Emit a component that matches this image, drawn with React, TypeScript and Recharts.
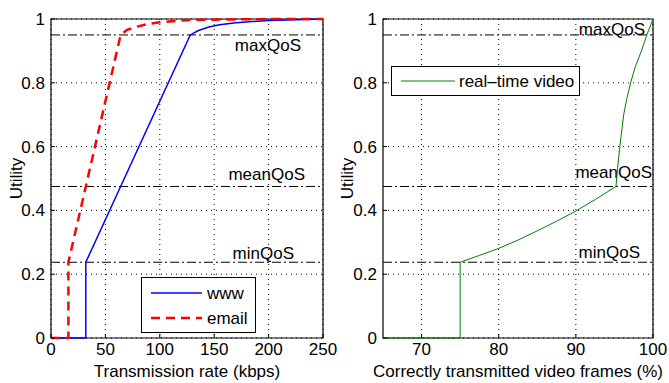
import React from 'react';
import {
  LineChart,
  Line,
  XAxis,
  YAxis,
  CartesianGrid,
  ReferenceLine,
  ReferenceArea,
  Legend,
} from 'recharts';

// www (left panel)
const wwwRate = [0, 32, 32, 128, 135, 145, 155, 170, 185, 200, 225, 250];
const wwwUtility = [0, 0, 0.2375, 0.95, 0.963, 0.975, 0.982, 0.988, 0.992, 0.995, 0.998, 1];

// email (left panel)
const emailRate = [0, 16, 16, 64, 70, 80, 90, 100, 115, 130, 150, 175, 200, 250];
const emailUtility = [0, 0, 0.2375, 0.95, 0.966, 0.977, 0.985, 0.99, 0.994, 0.997, 0.998, 0.999, 1, 1];

// real-time video (right panel)
const videoFrames = [65, 75, 75, 77.5, 80, 82.5, 85, 87.5, 90, 92.5, 95.2, 95.4, 95.7, 96.2, 96.6, 97.1, 97.7, 98.5, 99.2, 100];
const videoUtility = [0, 0, 0.2375, 0.259, 0.281, 0.307, 0.336, 0.366, 0.398, 0.434, 0.475, 0.53, 0.6, 0.7, 0.75, 0.8, 0.85, 0.9, 0.95, 1];

const rateTicks = [0, 50, 100, 150, 200, 250];
const frameTicks = [70, 80, 90, 100];
const utilityTicks = [0, 0.2, 0.4, 0.6, 0.8, 1];

const qosNames = ['maxQoS', 'meanQoS', 'minQoS'];
const qosValues = [0.95, 0.475, 0.2375];

const FONT = 17;
const DASHDOT = '9 3 2 3';

const toPoints = (xs: number[], ys: number[]) => xs.map((x, i) => ({ x, y: ys[i] }));

const wwwData = toPoints(wwwRate, wwwUtility);
const emailData = toPoints(emailRate, emailUtility);
const videoData = toPoints(videoFrames, videoUtility);

function QosLabel(props: any) {
  const { viewBox, text, dx, dy } = props;
  if (!viewBox) return null;
  return (
    <text x={viewBox.x + viewBox.width - dx} y={viewBox.y + dy} textAnchor="end" fontSize={FONT} fill="#000">
      {text}
    </text>
  );
}

function YTick(props: any) {
  const { x, y, payload } = props;
  return (
    <g>
      <line x1={x + 6} x2={x + 10} y1={y} y2={y} stroke="#000" />
      <text x={x} y={y} dy="0.35em" textAnchor="end" fontSize={FONT} fill="#000">
        {payload.value}
      </text>
    </g>
  );
}

function XTick(props: any) {
  const { x, y, payload } = props;
  return (
    <g>
      <line x1={x} x2={x} y1={y - 4} y2={y - 8} stroke="#000" />
      <text x={x} y={y} dy="0.75em" textAnchor="middle" fontSize={FONT} fill="#000">
        {payload.value}
      </text>
    </g>
  );
}

function YTitle(props: any) {
  const { viewBox, bx } = props;
  const cy = viewBox.y + viewBox.height / 2;
  return (
    <text x={bx} y={cy} transform={`rotate(-90 ${bx} ${cy})`} textAnchor="middle" fontSize={FONT} fill="#000">
      Utility
    </text>
  );
}

function XTitle(props: any) {
  const { viewBox, text } = props;
  return (
    <text x={viewBox.x + viewBox.width / 2} y={viewBox.y + 39} textAnchor="middle" fontSize={FONT} fill="#000">
      {text}
    </text>
  );
}

function LeftLegend() {
  return (
    <svg width={115} height={56} style={{ display: 'block' }}>
      <rect x={0.5} y={0.5} width={114} height={55} fill="#fff" stroke="#000" />
      <line x1={10} x2={61} y1={16} y2={16} stroke="#0000ff" strokeWidth={1.5} />
      <text x={66} y={22} fontSize={FONT} fill="#000">www</text>
      <line x1={10} x2={61} y1={41} y2={41} stroke="#ff0000" strokeWidth={2.5} strokeDasharray="9 6" />
      <text x={66} y={47} fontSize={FONT} fill="#000">email</text>
    </svg>
  );
}

function RightLegend() {
  return (
    <svg width={189} height={30} style={{ display: 'block' }}>
      <rect x={0.5} y={0.5} width={188} height={29} fill="#fff" stroke="#000" />
      <line x1={10} x2={64} y1={15} y2={15} stroke="#008000" strokeWidth={1} />
      <text x={68} y={21} fontSize={FONT} fill="#000">real–time video</text>
    </svg>
  );
}

export default function App() {
  return (
    <div
      style={{
        position: 'absolute',
        left: 0,
        top: 0,
        width: 669,
        height: 383,
        background: '#fff',
        fontFamily: '"Liberation Sans", Arial, Helvetica, sans-serif',
      }}
    >
      <div style={{ position: 'absolute', left: 0, top: 0 }}>
        <LineChart width={345} height={383} margin={{ top: 19, right: 22, bottom: 0, left: 0 }}>
          <CartesianGrid stroke="#000" strokeDasharray="1 4" horizontalValues={utilityTicks} verticalValues={rateTicks} />
          <XAxis
            type="number"
            dataKey="x"
            domain={[0, 250]}
            ticks={rateTicks}
            height={45}
            tickSize={0}
            tickMargin={4}
            axisLine={false}
            tick={<XTick />}
            label={<XTitle text="Transmission rate (kbps)" />}
          />
          <YAxis
            type="number"
            dataKey="y"
            domain={[0, 1]}
            ticks={utilityTicks}
            width={51}
            tickSize={0}
            tickMargin={6}
            axisLine={false}
            tick={<YTick />}
            label={<YTitle bx={22} />}
          />
          {qosValues.map((v, i) => (
            <ReferenceLine
              key={qosNames[i]}
              y={v}
              stroke="#000"
              strokeDasharray={DASHDOT}
              label={<QosLabel text={qosNames[i]} dx={[22, 18, 29][i]} dy={[16, -6, -3][i]} />}
            />
          ))}
          <Line data={wwwData} dataKey="y" type="linear" stroke="#0000ff" strokeWidth={1.5} dot={false} isAnimationActive={false} />
          <Line
            data={emailData}
            dataKey="y"
            type="linear"
            stroke="#ff0000"
            strokeWidth={2.5}
            strokeDasharray="9 6"
            dot={false}
            isAnimationActive={false}
          />
          <ReferenceArea x1={0} x2={250} y1={0} y2={1} fill="none" stroke="#000" strokeWidth={1.2} />
          <Legend
            layout="vertical"
            align="center"
            verticalAlign="middle"
            content={<LeftLegend />}
            wrapperStyle={{ left: 141, top: 277, width: 115, height: 56 }}
          />
        </LineChart>
      </div>
      <div style={{ position: 'absolute', left: 335, top: 0 }}>
        <LineChart width={334} height={383} margin={{ top: 19, right: 16, bottom: 0, left: 0 }}>
          <CartesianGrid stroke="#000" strokeDasharray="1 4" horizontalValues={utilityTicks} verticalValues={frameTicks} />
          <XAxis
            type="number"
            dataKey="x"
            domain={[65, 100]}
            ticks={frameTicks}
            height={45}
            tickSize={0}
            tickMargin={4}
            axisLine={false}
            tick={<XTick />}
            label={<XTitle text="Correctly transmitted video frames (%)" />}
          />
          <YAxis
            type="number"
            dataKey="y"
            domain={[0, 1]}
            ticks={utilityTicks}
            width={48}
            tickSize={0}
            tickMargin={6}
            axisLine={false}
            tick={<YTick />}
            label={<YTitle bx={18} />}
          />
          {qosValues.map((v, i) => (
            <ReferenceLine
              key={qosNames[i]}
              y={v}
              stroke="#000"
              strokeDasharray={DASHDOT}
              label={<QosLabel text={qosNames[i]} dx={[8, 1, 13][i]} dy={[0, -8, -4][i]} />}
            />
          ))}
          <Line data={videoData} dataKey="y" type="linear" stroke="#008000" strokeWidth={1} dot={false} isAnimationActive={false} />
          <ReferenceArea x1={65} x2={100} y1={0} y2={1} fill="none" stroke="#000" strokeWidth={1.2} />
          <Legend
            layout="vertical"
            align="center"
            verticalAlign="middle"
            content={<RightLegend />}
            wrapperStyle={{ left: 56, top: 66, width: 189, height: 30 }}
          />
        </LineChart>
      </div>
    </div>
  );
}
